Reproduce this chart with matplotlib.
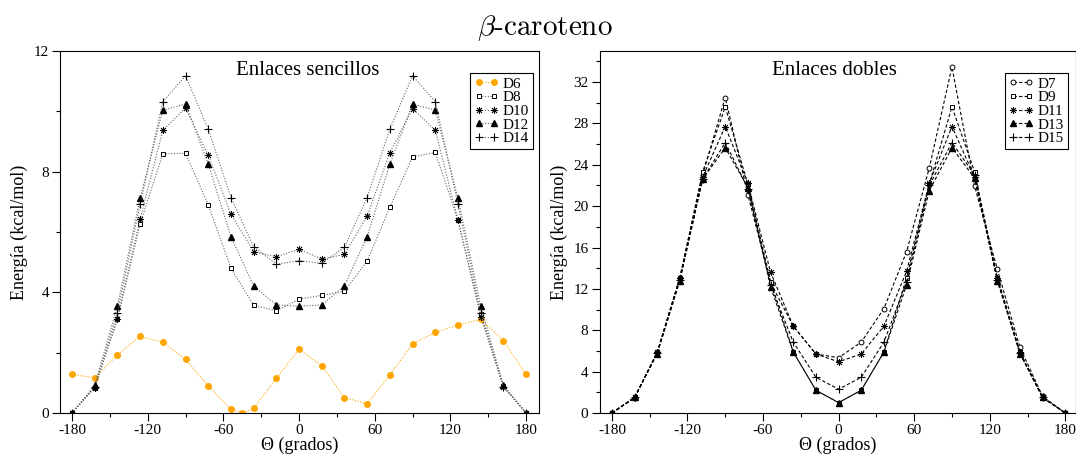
import numpy as np
import matplotlib
matplotlib.use("Agg")
import matplotlib.pyplot as plt
from matplotlib.ticker import MultipleLocator

plt.rcParams["font.family"] = ["Liberation Serif", "DejaVu Serif"]
plt.rcParams["mathtext.fontset"] = "cm"
plt.rcParams["axes.unicode_minus"] = False

# Angulos de torsion (grados)
theta = [-180, -162, -144, -126, -108, -90, -72, -54, -36, -18, 0,
         18, 36, 54, 72, 90, 108, 126, 144, 162, 180]
theta_d6 = [-180, -162, -144, -126, -108, -90, -72, -54, -45, -36, -18, 0,
            18, 36, 54, 72, 90, 108, 126, 144, 162, 180]

# Enlaces sencillos
d6 = [1.28, 1.17, 1.93, 2.54, 2.34, 1.78, 0.90, 0.12, 0.0, 0.15, 1.15, 2.11,
      1.57, 0.51, 0.31, 1.26, 2.29, 2.67, 2.91, 3.10, 2.40, 1.28]
d8 = [0, 0.84, 3.10, 6.27, 8.59, 8.61, 6.90, 4.80, 3.57, 3.39, 3.77,
      3.90, 4.04, 5.04, 6.82, 8.49, 8.64, 6.39, 3.29, 0.88, 0]
d10 = [0, 0.84, 3.13, 6.43, 9.37, 10.11, 8.55, 6.59, 5.35, 5.18, 5.43,
       5.10, 5.26, 6.53, 8.63, 10.09, 9.37, 6.39, 3.19, 0.87, 0]
d12 = [0, 0.93, 3.55, 7.12, 10.04, 10.24, 8.25, 5.85, 4.21, 3.58, 3.54,
       3.58, 4.22, 5.85, 8.25, 10.24, 10.04, 7.12, 3.55, 0.93, 0]
d14 = [0, 0.87, 3.33, 6.92, 10.32, 11.18, 9.41, 7.14, 5.51, 4.93, 5.05,
       4.96, 5.50, 7.14, 9.41, 11.18, 10.32, 6.92, 3.33, 0.87, 0]

# Enlaces dobles
d7 = [0, 1.45, 5.85, 13.1, 23.0, 30.5, 21.1, 12.6, 8.4, 5.7, 5.35,
      6.85, 10.1, 15.6, 23.7, 33.45, 21.95, 13.9, 6.35, 1.6, 0]
d9 = [0, 1.5, 5.8, 13.05, 23.3, 29.6, 22.1, 12.7, 5.9, 2.2, 1.0,
      2.2, 5.9, 13.1, 22.1, 29.6, 23.3, 13.05, 5.8, 1.5, 0]
d11 = [0, 1.5, 5.9, 13.1, 22.8, 27.7, 22.2, 13.6, 8.4, 5.7, 4.95,
       5.7, 8.4, 13.7, 22.2, 27.7, 22.8, 13.1, 5.9, 1.5, 0]
d13 = [0, 1.5, 5.75, 12.8, 22.6, 25.65, 21.8, 12.2, 5.9, 2.2, 1.0,
       2.2, 5.9, 12.4, 21.5, 25.65, 22.7, 12.8, 5.75, 1.5, 0]
d15 = [0, 1.5, 5.8, 12.9, 22.6, 26.15, 21.7, 12.4, 6.85, 3.45, 2.3,
       3.45, 6.85, 12.7, 22.0, 26.15, 23.0, 12.9, 5.8, 1.5, 0]

ASTER = (8, 2, 0)
DOT = (0, (1, 1.5))
DASH = (0, (3, 2))


def style_axes(ax, ymax, ymaj):
    # Ticks hacia fuera, mayores cada 60 grados, menores cada 30
    ax.set_xlim(-189.5, 190.3)
    ax.set_ylim(0, ymax)
    ax.set_xticks([-180, -120, -60, 0, 60, 120, 180])
    ax.xaxis.set_minor_locator(MultipleLocator(30))
    ax.yaxis.set_major_locator(MultipleLocator(ymaj))
    ax.yaxis.set_minor_locator(MultipleLocator(2))
    ax.tick_params(which="major", direction="out", length=6, width=0.8,
                   labelsize=11, pad=2)
    ax.tick_params(which="minor", direction="out", length=3, width=0.8)
    ax.set_xlabel("Θ (grados)", fontsize=13, labelpad=0)
    ax.set_ylabel("Energía (kcal/mol)", fontsize=13, labelpad=4)
    for s in ax.spines.values():
        s.set_linewidth(0.8)


def add_legend(ax, x):
    leg = ax.legend(loc="upper right", bbox_to_anchor=(x, 0.939),
                    borderaxespad=0, fontsize=11, numpoints=2,
                    handlelength=1.6, handletextpad=0.3, labelspacing=0.0,
                    borderpad=0.25, fancybox=False, framealpha=1,
                    edgecolor="black")
    leg.get_frame().set_linewidth(0.8)
    return leg


fig = plt.figure(figsize=(10.76, 4.57), dpi=100)
ax1 = fig.add_axes([0.0558, 0.0963, 0.4452, 0.7921])
ax2 = fig.add_axes([0.5572, 0.0963, 0.4428, 0.7921])

# Panel izquierdo: enlaces sencillos
ax1.plot(theta_d6, d6, linestyle=DOT, color="#ffa500", lw=0.8, marker="o",
         ms=4, mfc="#ffa500", mec="#ffa500", label="D6")
ax1.plot(theta, d8, linestyle=DOT, color="0.4", lw=0.8, marker="s", ms=3.5,
         mfc="white", mec="black", mew=0.7, label="D8")
ax1.plot(theta, d10, linestyle=DOT, color="0.4", lw=0.8, marker=ASTER,
         ms=5, mfc="black", mec="black", mew=0.6, label="D10")
ax1.plot(theta, d12, linestyle=DOT, color="0.4", lw=0.8, marker="^", ms=3.8,
         mfc="black", mec="black", label="D12")
ax1.plot(theta, d14, linestyle=DOT, color="0.4", lw=0.8, marker="+", ms=6,
         mec="black", mew=0.8, label="D14")
style_axes(ax1, 12, 4)
ax1.text(0.516, 0.947, "Enlaces sencillos", transform=ax1.transAxes,
         ha="center", va="center", fontsize=15)
add_legend(ax1, 0.9875)

# Panel derecho: enlaces dobles
ax2.plot(theta, d7, linestyle=DASH, color="black", lw=0.8, marker="o",
         ms=3.5, mfc="white", mec="black", mew=0.7, label="D7")
ax2.plot(theta, d9, linestyle=DASH, color="black", lw=0.8, marker="s",
         ms=3.5, mfc="white", mec="black", mew=0.7, label="D9")
ax2.plot(theta, d11, linestyle=DASH, color="black", lw=0.8, marker=ASTER,
         ms=5, mfc="black", mec="black", mew=0.6, label="D11")
ax2.plot(theta, d13, linestyle=DASH, color="black", lw=0.8, marker="^",
         ms=3.8, mfc="black", mec="black", label="D13")
ax2.plot(theta, d15, linestyle=DASH, color="black", lw=0.8, marker="+",
         ms=6, mec="black", mew=0.8, label="D15")
style_axes(ax2, 35, 4)
ax2.set_xlim(-189.8, 188.5)
ax2.text(0.494, 0.947, "Enlaces dobles", transform=ax2.transAxes,
         ha="center", va="center", fontsize=15)
add_legend(ax2, 0.983)

fig.text(0.5065, 0.939, r"$\beta$-caroteno", ha="center", va="center",
         fontsize=21, family="cmr10")

fig.savefig("out.png", dpi=100)
